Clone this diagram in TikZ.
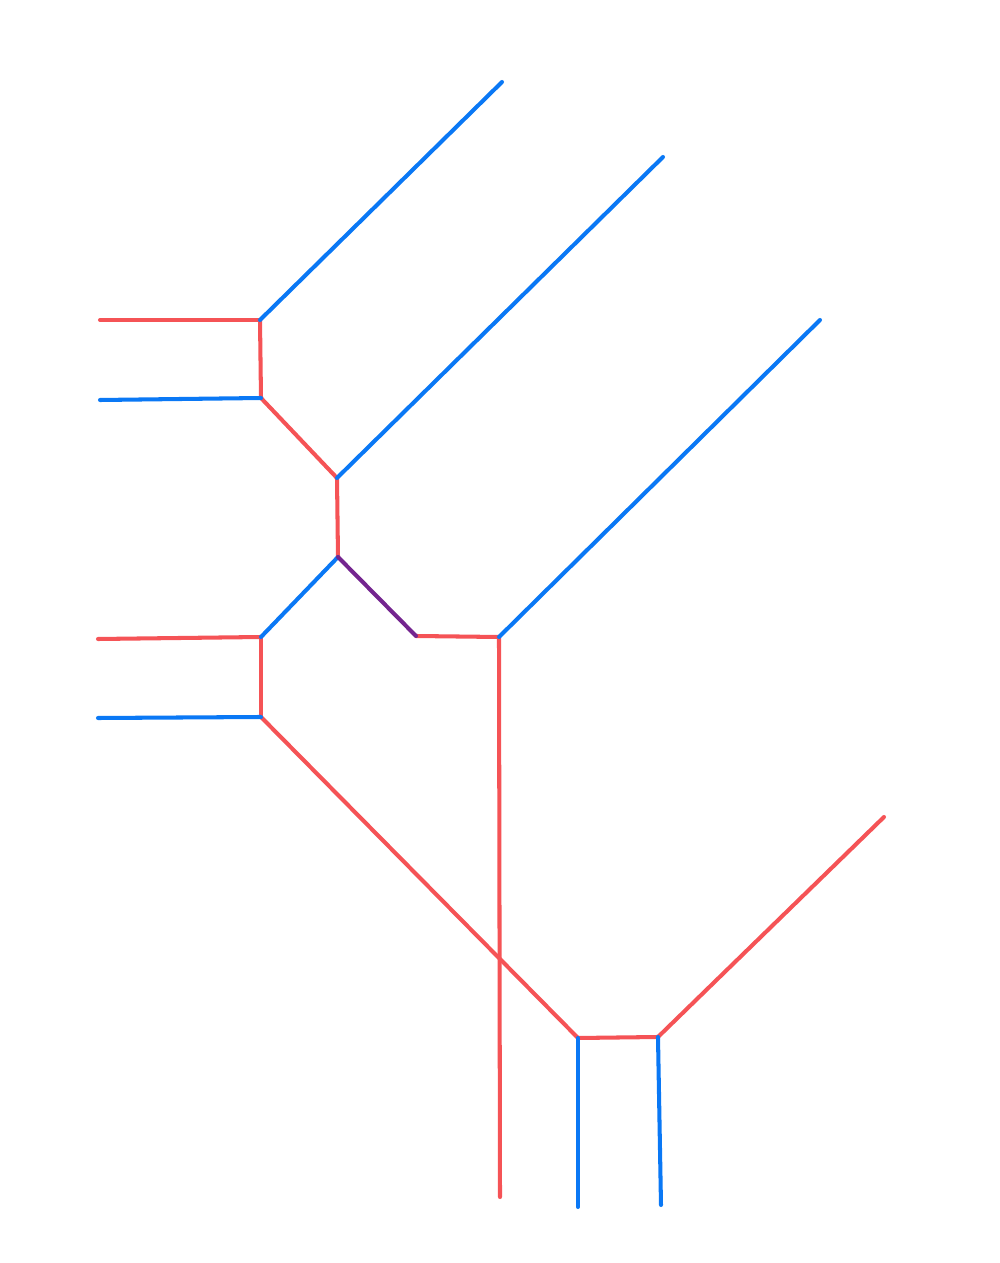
\documentclass[tikz,border=0pt]{standalone}
\usepackage{tikz}

\definecolor{lred}{HTML}{F55356}
\definecolor{lblue}{HTML}{0A78F5}
\definecolor{lpurple}{HTML}{74258F}

\tikzset{
  redline/.style={draw=lred, line width=1.15pt, line cap=round, line join=round},
  blueline/.style={draw=lblue, line width=1.15pt, line cap=round, line join=round},
  purpleline/.style={draw=lpurple, line width=1.15pt, line cap=round, line join=round}
}

\begin{document}
\begin{tikzpicture}
    \useasboundingbox (0,0) rectangle (10,12.63);

    % vertices
    \coordinate (v1) at (2.60, 9.43);
    \coordinate (v2) at (2.61, 8.65);
    \coordinate (v3) at (3.37, 7.85);
    \coordinate (v4) at (3.38, 7.06);
    \coordinate (v5) at (2.61, 6.26);
    \coordinate (v6) at (2.61, 5.46);
    \coordinate (v7) at (4.16, 6.27);
    \coordinate (v8) at (4.99, 6.26);
    \coordinate (v9) at (5.78, 2.25);
    \coordinate (v10) at (6.58, 2.26);

    % free ends
    \coordinate (e1) at (5.02, 11.81);
    \coordinate (e2) at (6.63, 11.06);
    \coordinate (e3) at (8.20, 9.43);
    \coordinate (e4) at (1.00, 9.43);
    \coordinate (e5) at (1.00, 8.63);
    \coordinate (e6) at (0.98, 6.24);
    \coordinate (e7) at (0.98, 5.45);
    \coordinate (e8) at (5.00, 0.66);
    \coordinate (e9) at (5.78, 0.56);
    \coordinate (e10) at (6.61, 0.58);
    \coordinate (e11) at (8.84, 4.46);

    \draw[redline] (e4) -- (v1);
    \draw[redline] (v1) -- (v2);
    \draw[redline] (v2) -- (v3);
    \draw[redline] (v3) -- (v4);
    \draw[redline] (e6) -- (v5);
    \draw[redline] (v5) -- (v6);
    \draw[redline] (v6) -- (v9);
    \draw[redline] (v7) -- (v8);
    \draw[redline] (v8) -- (e8);
    \draw[redline] (v9) -- (v10);
    \draw[redline] (v10) -- (e11);

    \draw[blueline] (v1) -- (e1);
    \draw[blueline] (v3) -- (e2);
    \draw[blueline] (v8) -- (e3);
    \draw[blueline] (e5) -- (v2);
    \draw[blueline] (v5) -- (v4);
    \draw[blueline] (e7) -- (v6);
    \draw[blueline] (v9) -- (e9);
    \draw[blueline] (v10) -- (e10);

    \draw[purpleline] (v4) -- (v7);
  \end{tikzpicture}
\end{document}
